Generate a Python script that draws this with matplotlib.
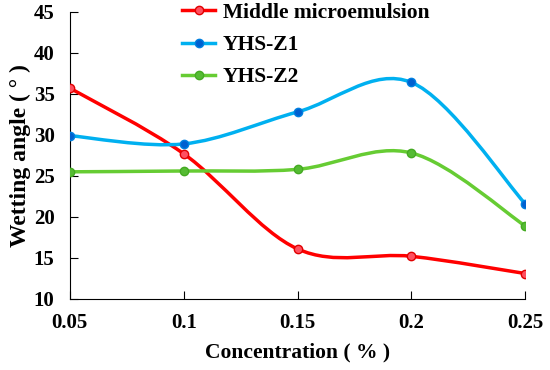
import matplotlib
matplotlib.use('Agg')
import matplotlib.pyplot as plt
from matplotlib.path import Path
from matplotlib.patches import PathPatch

# Data
conc = [0.05, 0.1, 0.15, 0.2, 0.25]
middle = [35.7, 27.7, 16.1, 15.2, 13.1]
yhs_z1 = [29.9, 28.9, 32.8, 36.4, 21.6]
yhs_z2 = [25.5, 25.6, 25.8, 27.8, 18.9]

plt.rcParams['font.family'] = ['Liberation Serif', 'DejaVu Serif']
plt.rcParams['font.weight'] = 'bold'


def smooth_path(x, y):
    # Catmull-Rom style smoothing drawn as cubic Bezier segments
    pts = list(zip(x, y))
    verts = [pts[0]]
    codes = [Path.MOVETO]
    n = len(pts)
    for i in range(n - 1):
        p0 = pts[i - 1] if i > 0 else pts[i]
        p1 = pts[i]
        p2 = pts[i + 1]
        p3 = pts[i + 2] if i + 2 < n else pts[i + 1]
        c1 = (p1[0] + (p2[0] - p0[0]) / 6, p1[1] + (p2[1] - p0[1]) / 6)
        c2 = (p2[0] - (p3[0] - p1[0]) / 6, p2[1] - (p3[1] - p1[1]) / 6)
        verts += [c1, c2, p2]
        codes += [Path.CURVE4] * 3
    return Path(verts, codes)


fig, ax = plt.subplots(figsize=(5.5, 3.7), dpi=100)
fig.subplots_adjust(left=0.127, right=0.955, bottom=0.192, top=0.968)

series = [
    ('Middle microemulsion', middle, '#ff0000', '#ff5060', '#e00000'),
    ('YHS-Z1', yhs_z1, '#00b0f0', '#0060d0', '#0080e0'),
    ('YHS-Z2', yhs_z2, '#66cc33', '#55bb33', '#44aa22'),
]
for label, vals, col, mface, medge in series:
    ax.add_patch(PathPatch(smooth_path(conc, vals), facecolor='none',
                           edgecolor=col, lw=2.5, zorder=2))
    ax.plot([], [], color=col, lw=2.5, marker='o', ms=6,
            mfc=mface, mec=medge, label=label)
    ax.plot(conc, vals, ls='none', marker='o', ms=6, mfc=mface,
            mec=medge, mew=1, zorder=3)

ax.set_xlim(0.05, 0.25)
ax.set_ylim(10, 45)
ax.set_xticks(conc)
ax.set_xticklabels(['0.05', '0.1', '0.15', '0.2', '0.25'])
ax.set_yticks(range(10, 46, 5))
ax.tick_params(direction='in', length=6, labelsize=15)
ax.tick_params(axis='x', pad=10)
ax.tick_params(axis='y', pad=11)
for t in ax.get_xticklabels() + ax.get_yticklabels():
    t.set_fontweight('bold')
ax.spines['top'].set_visible(False)
ax.spines['right'].set_visible(False)

ax.set_xlabel('Concentration ( % )', fontsize=15.5, fontweight='bold',
              labelpad=7)
ax.set_ylabel('Wetting angle ( ° )', fontsize=17, fontweight='bold',
              labelpad=2)

ax.legend(loc='upper left', bbox_to_anchor=(0.331, 0.992),
          bbox_transform=fig.transFigure, frameon=False,
          prop={'size': 15.5, 'weight': 'bold'}, handlelength=1.55,
          handletextpad=0.35, labelspacing=0.56, borderpad=0,
          borderaxespad=0)

plt.savefig('out.png', dpi=100)
